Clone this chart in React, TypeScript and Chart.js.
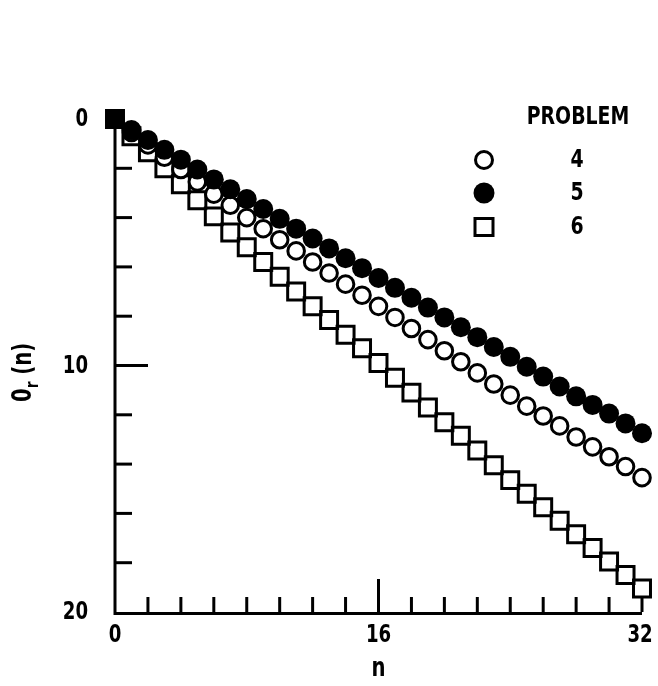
import React, { useEffect, useRef } from "react";
import { Chart, registerables } from "chart.js";

Chart.register(...registerables);

const nValues = [0, 1, 2, 3, 4, 5, 6, 7, 8, 9, 10, 11, 12, 13, 14, 15, 16, 17, 18, 19, 20, 21, 22, 23, 24, 25, 26, 27, 28, 29, 30, 31, 32];
const problem4 = [0, 0.55, 1.05, 1.55, 2.05, 2.55, 3.05, 3.5, 4.0, 4.45, 4.9, 5.35, 5.8, 6.25, 6.7, 7.15, 7.6, 8.05, 8.5, 8.95, 9.4, 9.85, 10.3, 10.75, 11.2, 11.65, 12.05, 12.45, 12.9, 13.3, 13.7, 14.1, 14.55];
const problem5 = [0, 0.45, 0.85, 1.25, 1.65, 2.05, 2.45, 2.85, 3.25, 3.65, 4.05, 4.45, 4.85, 5.25, 5.65, 6.05, 6.45, 6.85, 7.25, 7.65, 8.05, 8.45, 8.85, 9.25, 9.65, 10.05, 10.45, 10.85, 11.25, 11.6, 11.95, 12.35, 12.75];
const problem6 = [0, 0.7, 1.35, 2.0, 2.65, 3.3, 3.95, 4.6, 5.2, 5.8, 6.4, 7.0, 7.6, 8.15, 8.75, 9.3, 9.9, 10.5, 11.1, 11.7, 12.3, 12.85, 13.45, 14.05, 14.65, 15.2, 15.75, 16.3, 16.85, 17.4, 17.95, 18.5, 19.05];

const xTickValues = [0, 16, 32];
const xTickLabels = ["0", "16", "32"];
const yTickValues = [0, 10, 20];
const yTickLabels = ["0", "10", "20"];
const xMinorStep = 2;
const yMinorStep = 2;
const xTitle = "n";
const yTitleMain = "0";
const yTitleSub = "r";
const yTitleRest = " (n)";
const legendTitle = "PROBLEM";
const seriesLabels = ["4", "5", "6"];

const FAMILY = "'Liberation Sans Narrow', 'DejaVu Sans Condensed', 'DejaVu Sans', sans-serif";
const SX = 0.84;

function condText(ctx: CanvasRenderingContext2D, t: string, x: number, y: number) {
  ctx.save();
  ctx.translate(x, y);
  ctx.scale(SX, 1);
  ctx.fillText(t, 0, 0);
  ctx.restore();
}

const axesPlugin = {
  id: "customAxes",
  beforeDatasetsDraw(chart: any) {
    const ctx = chart.ctx;
    const xs = chart.scales.x;
    const ys = chart.scales.y;
    const x0 = xs.getPixelForValue(0);
    const x1 = xs.getPixelForValue(32);
    const y0 = ys.getPixelForValue(0);
    const y1 = ys.getPixelForValue(20);
    ctx.save();
    ctx.strokeStyle = "#000";
    ctx.lineWidth = 3;
    ctx.lineCap = "butt";
    ctx.beginPath();
    ctx.moveTo(x0, y0);
    ctx.lineTo(x0, y1 + 1.5);
    ctx.lineTo(x1, y1 + 1.5);
    ctx.stroke();
    for (let v = xMinorStep; v < 32 + 0.001; v += xMinorStep) {
      const px = xs.getPixelForValue(v);
      const len = v === 16 ? 33 : 15;
      ctx.beginPath();
      ctx.moveTo(px, y1);
      ctx.lineTo(px, y1 - len);
      ctx.stroke();
    }
    for (let v = yMinorStep; v < 20; v += yMinorStep) {
      const py = ys.getPixelForValue(v);
      const len = v === 10 ? 33 : 17;
      ctx.beginPath();
      ctx.moveTo(x0, py);
      ctx.lineTo(x0 + len, py);
      ctx.stroke();
    }
    ctx.restore();
  },
  afterDraw(chart: any) {
    const ctx = chart.ctx;
    const xs = chart.scales.x;
    const ys = chart.scales.y;
    const x0 = xs.getPixelForValue(0);
    const yb = ys.getPixelForValue(20);
    ctx.save();
    ctx.fillStyle = "#000";
    ctx.font = `bold 24px ${FAMILY}`;
    ctx.textAlign = "right";
    ctx.textBaseline = "middle";
    yTickValues.forEach((v, i) => {
      condText(ctx, yTickLabels[i], x0 - 27, ys.getPixelForValue(v) + 1);
    });
    ctx.textAlign = "center";
    ctx.textBaseline = "middle";
    xTickValues.forEach((v, i) => {
      condText(ctx, xTickLabels[i], xs.getPixelForValue(v) - (v === 32 ? 2 : 0), yb + 24);
    });
    ctx.font = `bold 26px ${FAMILY}`;
    condText(ctx, xTitle, xs.getPixelForValue(16), yb + 57);
    // y title
    ctx.save();
    ctx.translate(31, 402);
    ctx.rotate(-Math.PI / 2);
    ctx.scale(SX, 1);
    ctx.textAlign = "left";
    ctx.textBaseline = "alphabetic";
    ctx.font = `bold 26px ${FAMILY}`;
    ctx.fillText(yTitleMain, 0, 0);
    let w = ctx.measureText(yTitleMain).width;
    ctx.font = `bold 18px ${FAMILY}`;
    ctx.fillText(yTitleSub, w, 7);
    w += ctx.measureText(yTitleSub).width;
    ctx.font = `bold 26px ${FAMILY}`;
    ctx.fillText(yTitleRest, w, 0);
    ctx.restore();
    // legend
    ctx.font = `bold 25px ${FAMILY}`;
    ctx.textAlign = "center";
    ctx.textBaseline = "middle";
    condText(ctx, legendTitle, 578, 117);
    const rows = [160, 193, 227];
    seriesLabels.forEach((s, i) => condText(ctx, s, 577, rows[i]));
    const lx = 484;
    ctx.lineWidth = 3;
    ctx.strokeStyle = "#000";
    ctx.beginPath();
    ctx.arc(lx, rows[0], 8.5, 0, Math.PI * 2);
    ctx.stroke();
    ctx.beginPath();
    ctx.arc(lx, rows[1], 10.5, 0, Math.PI * 2);
    ctx.fill();
    ctx.strokeRect(lx - 9, rows[2] - 8.5, 18, 17);
    ctx.restore();
  },
};

export default function App() {
  const ref = useRef<HTMLCanvasElement | null>(null);
  useEffect(() => {
    if (!ref.current) return;
    const mk = (arr: number[]) => nValues.map((n, i) => ({ x: n, y: arr[i] }));
    const chart = new Chart(ref.current, {
      type: "scatter",
      data: {
        datasets: [
          {
            label: "5",
            data: mk(problem5),
            pointStyle: "circle",
            pointRadius: 10,
            backgroundColor: "#000",
            borderColor: "#000",
            borderWidth: 0,
            clip: false,
            order: 0,
          } as any,
          {
            label: "4",
            data: mk(problem4),
            pointStyle: "circle",
            pointRadius: 8.3,
            backgroundColor: "#fff",
            borderColor: "#000",
            borderWidth: 3,
            clip: false,
            order: 1,
          } as any,
          {
            label: "6",
            data: mk(problem6),
            pointStyle: "rect",
            pointRadius: 12,
            backgroundColor: "rgba(0,0,0,0)",
            borderColor: "#000",
            borderWidth: 3,
            clip: false,
            order: 2,
          } as any,
        ],
      },
      options: {
        responsive: false,
        animation: false,
        events: [],
        layout: { padding: { left: 115, right: 16, top: 119, bottom: 74 } },
        plugins: { legend: { display: false }, tooltip: { enabled: false } },
        scales: {
          x: { type: "linear", min: 0, max: 32, display: false },
          y: { type: "linear", min: 0, max: 20, reverse: true, display: false },
        },
      },
      plugins: [axesPlugin],
    });
    return () => chart.destroy();
  }, []);
  return (
    <div style={{ position: "fixed", left: 0, top: 0, width: 658, height: 686, background: "#fff" }}>
      <canvas ref={ref} width={658} height={686} style={{ width: 658, height: 686 }} />
    </div>
  );
}
